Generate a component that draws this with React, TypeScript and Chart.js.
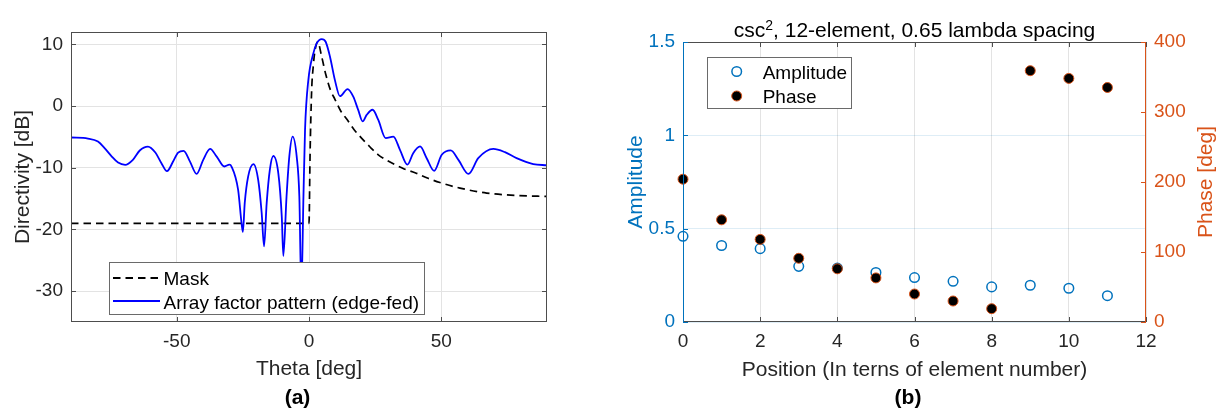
import React, { useEffect, useRef } from "react";
import { Chart, registerables } from "chart.js";

Chart.register(...registerables);

const FONT = "'Liberation Sans', Arial, Helvetica, sans-serif";
const TEXT = "#262626";
const BOX = "#4d4d4d";
const GRID = "#e3e3e3";
const MBLUE = "#0072BD";
const MORANGE = "#D95319";
const W = 1217;
const H = 412;

// ---------- Panel (a) data ----------
const patternTheta = [-90, -83.6, -79.8, -77.3, -74.8, -72.2, -69.5, -66.6, -64.0, -60.9, -58.1, -55.8, -53.7, -51.4, -49.5, -47.4, -45.0, -42.5, -40.0, -37.4, -34.9, -32.0, -30.1, -29.3, -26.8, -25.5, -25.0, -24.3, -23.0, -21.0, -19.2, -17.9, -17.0, -16.0, -14.8, -13.5, -11.6, -10.3, -9.7, -8.5, -7.45, -6.2, -4.65, -3.65, -2.9, -2.1, -1.5, -0.25, 1.64, 2.9, 4.8, 6.3, 7.94, 9.8, 11.7, 14.6, 16.75, 18.6, 20.3, 21.8, 24.05, 26.2, 29.0, 31.9, 34.4, 37.2, 39.4, 42.0, 44.5, 47.3, 50.2, 53.6, 56.5, 60.3, 64.0, 69.7, 74.1, 78.5, 84.8, 90];
const patternDb = [-5.1, -5.27, -5.76, -6.83, -8.07, -9.16, -9.53, -8.72, -7.2, -6.57, -7.54, -9.26, -10.55, -9.0, -7.54, -7.25, -9.0, -11.0, -8.72, -6.95, -8.2, -9.8, -9.5, -9.8, -13.6, -19.0, -20.4, -15.7, -11.4, -9.4, -12.0, -17.3, -22.75, -15.7, -10.3, -8.1, -10.9, -17.9, -24.3, -14.7, -8.2, -4.95, -8.2, -14.7, -30, -14.7, -3.87, 4.22, 8.54, 10.16, 10.86, 10.42, 8.0, 4.2, 1.6, 2.75, 1.52, -0.63, -2.5, -1.44, -0.6, -2.25, -5.2, -4.95, -7.1, -9.5, -7.64, -6.55, -8.45, -10.5, -7.9, -7.2, -8.72, -11.0, -8.45, -6.95, -7.48, -8.45, -9.4, -9.6];
const maskTheta = [-90, 0, 0.4, 1.0, 1.6, 2.2, 3.3, 4.8, 6.3, 8.1, 9.8, 12, 14.4, 17, 20.3, 23, 26.2, 29, 32.5, 36, 40.1, 45, 49.5, 57.1, 67.2, 78.5, 90];
const maskDb = [-19, -19, -8, 2.5, 6.4, 8.8, 10.4, 8.0, 5.2, 2.6, 1.1, -0.8, -2.2, -3.8, -5.4, -6.6, -7.9, -8.7, -9.5, -10.2, -10.8, -11.7, -12.4, -13.3, -14.1, -14.5, -14.65];
const thetaTicks = [-50, 0, 50];
const dbTicks = [-30, -20, -10, 0, 10];
const legendA = ["Mask", "Array factor pattern (edge-fed)"];

// ---------- Panel (b) data ----------
const positions = [0, 1, 2, 3, 4, 5, 6, 7, 8, 9, 10, 11];
const amplitude = [0.459, 0.41, 0.393, 0.298, 0.289, 0.265, 0.238, 0.218, 0.188, 0.197, 0.181, 0.141];
const phaseDeg = [204, 146, 118, 91, 76, 63, 40, 30, 19, 359, 348, 335];
const positionTicks = [0, 2, 4, 6, 8, 10, 12];
const amplitudeTicks = [0, 0.5, 1, 1.5];
const phaseTicks = [0, 100, 200, 300, 400];
const legendB = ["Amplitude", "Phase"];

function rotText(ctx: CanvasRenderingContext2D, text: string, x: number, y: number, font: string, color: string) {
  ctx.save();
  ctx.translate(x, y);
  ctx.rotate(-Math.PI / 2);
  ctx.font = font;
  ctx.fillStyle = color;
  ctx.textAlign = "center";
  ctx.textBaseline = "alphabetic";
  ctx.fillText(text, 0, 0);
  ctx.restore();
}

function text(ctx: CanvasRenderingContext2D, t: string, x: number, y: number, font: string, color: string, align: CanvasTextAlign = "center") {
  ctx.font = font;
  ctx.fillStyle = color;
  ctx.textAlign = align;
  ctx.textBaseline = "alphabetic";
  ctx.fillText(t, x, y);
}

const px = (v: number) => Math.round(v) + 0.5;

const panelAPlugin = {
  id: "panelA",
  afterDraw(chart: any) {
    const { ctx, chartArea: a } = chart;
    const xs = chart.scales.x;
    const ys = chart.scales.y;
    ctx.save();
    ctx.strokeStyle = BOX;
    ctx.lineWidth = 1;
    ctx.setLineDash([]);
    ctx.beginPath();
    for (const v of thetaTicks) {
      const p = px(xs.getPixelForValue(v));
      ctx.moveTo(p, a.bottom); ctx.lineTo(p, a.bottom - 5);
      ctx.moveTo(p, a.top); ctx.lineTo(p, a.top + 5);
    }
    for (const v of dbTicks) {
      const p = px(ys.getPixelForValue(v));
      ctx.moveTo(a.left, p); ctx.lineTo(a.left + 5, p);
      ctx.moveTo(a.right, p); ctx.lineTo(a.right - 5, p);
    }
    ctx.stroke();
    ctx.strokeRect(a.left + 0.5, a.top + 0.5, a.right - a.left - 1, a.bottom - a.top - 1);

    // legend
    ctx.fillStyle = "#fff";
    ctx.fillRect(109, 262, 316, 53);
    ctx.strokeStyle = "#6a6a6a";
    ctx.strokeRect(109.5, 262.5, 315, 52);
    ctx.lineWidth = 1.8;
    ctx.strokeStyle = "#000";
    ctx.setLineDash([7.5, 5]);
    ctx.beginPath(); ctx.moveTo(113, 278); ctx.lineTo(160, 278); ctx.stroke();
    ctx.setLineDash([]);
    ctx.strokeStyle = "#0000FF";
    ctx.beginPath(); ctx.moveTo(113, 301); ctx.lineTo(160, 301); ctx.stroke();
    text(ctx, legendA[0], 163.5, 285.3, `19px ${FONT}`, "#000", "left");
    text(ctx, legendA[1], 163.5, 308.7, `19px ${FONT}`, "#000", "left");

    // axis labels
    rotText(ctx, "Directivity [dB]", 28.5, 177, `21px ${FONT}`, TEXT);
    text(ctx, "Theta [deg]", 309, 375, `21px ${FONT}`, TEXT);
    text(ctx, "(a)", 297.5, 404, `bold 21px ${FONT}`, "#000");
    ctx.restore();
  },
};

const panelBPlugin = {
  id: "panelB",
  afterDraw(chart: any) {
    const { ctx, chartArea: a } = chart;
    const xs = chart.scales.x;
    const ys = chart.scales.y;
    const y2 = chart.scales.y2;
    ctx.save();
    ctx.lineWidth = 1;
    ctx.setLineDash([]);
    // x ticks & top/bottom borders
    ctx.strokeStyle = BOX;
    ctx.beginPath();
    for (const v of positionTicks) {
      const p = px(xs.getPixelForValue(v));
      ctx.moveTo(p, a.bottom); ctx.lineTo(p, a.bottom - 5);
      ctx.moveTo(p, a.top); ctx.lineTo(p, a.top + 5);
    }
    ctx.moveTo(a.left, a.top + 0.5); ctx.lineTo(a.right, a.top + 0.5);
    ctx.moveTo(a.left, a.bottom - 0.5); ctx.lineTo(a.right, a.bottom - 0.5);
    ctx.stroke();
    // left axis
    ctx.strokeStyle = MBLUE;
    ctx.beginPath();
    ctx.moveTo(a.left + 0.5, a.top); ctx.lineTo(a.left + 0.5, a.bottom);
    for (const v of amplitudeTicks) {
      const p = px(ys.getPixelForValue(v));
      ctx.moveTo(a.left, p); ctx.lineTo(a.left + 5, p);
    }
    ctx.stroke();
    // right axis
    ctx.strokeStyle = MORANGE;
    ctx.beginPath();
    ctx.moveTo(a.right - 0.5, a.top); ctx.lineTo(a.right - 0.5, a.bottom);
    for (const v of phaseTicks) {
      const p = px(y2.getPixelForValue(v));
      ctx.moveTo(a.right, p); ctx.lineTo(a.right - 5, p);
    }
    ctx.stroke();

    // title with superscript
    const big = `21px ${FONT}`;
    const small = `14px ${FONT}`;
    const rest = ", 12-element, 0.65 lambda spacing";
    ctx.font = big;
    const w1 = ctx.measureText("csc").width;
    const w3 = ctx.measureText(rest).width;
    ctx.font = small;
    const w2 = ctx.measureText("2").width;
    let tx = 914.5 - (w1 + w2 + w3) / 2;
    text(ctx, "csc", tx, 36.5, big, "#000", "left");
    tx += w1;
    text(ctx, "2", tx, 29.5, small, "#000", "left");
    tx += w2;
    text(ctx, rest, tx, 36.5, big, "#000", "left");

    // legend
    ctx.fillStyle = "#fff";
    ctx.fillRect(707, 57, 145, 51);
    ctx.strokeStyle = "#6a6a6a";
    ctx.strokeRect(707.5, 57.5, 144, 51);
    ctx.lineWidth = 1.5;
    ctx.strokeStyle = MBLUE;
    ctx.beginPath(); ctx.arc(736.7, 71.5, 4.8, 0, Math.PI * 2); ctx.stroke();
    ctx.fillStyle = "#000";
    ctx.strokeStyle = MORANGE;
    ctx.lineWidth = 1;
    ctx.beginPath(); ctx.arc(736.7, 96, 5, 0, Math.PI * 2); ctx.fill(); ctx.stroke();
    text(ctx, legendB[0], 762.7, 78.7, `19px ${FONT}`, "#000", "left");
    text(ctx, legendB[1], 762.7, 102.7, `19px ${FONT}`, "#000", "left");

    // axis labels
    rotText(ctx, "Amplitude", 641.5, 182, `21px ${FONT}`, MBLUE);
    rotText(ctx, "Phase [deg]", 1211.5, 182, `21px ${FONT}`, MORANGE);
    text(ctx, "Position (In terns of element number)", 914.5, 375.5, `21px ${FONT}`, TEXT);
    text(ctx, "(b)", 908, 404, `bold 21px ${FONT}`, "#000");
    ctx.restore();
  },
};

const tickFont = { family: FONT, size: 19 };

function configA(): any {
  return {
    type: "line",
    data: {
      datasets: [
        {
          label: legendA[1],
          data: patternTheta.map((t, i) => ({ x: t, y: patternDb[i] })),
          borderColor: "#0000FF",
          borderWidth: 1.8,
          pointRadius: 0,
          cubicInterpolationMode: "monotone",
          order: 0,
        },
        {
          label: legendA[0],
          data: maskTheta.map((t, i) => ({ x: t, y: maskDb[i] })),
          borderColor: "#000000",
          borderWidth: 1.7,
          borderDash: [7.5, 5],
          pointRadius: 0,
          cubicInterpolationMode: "monotone",
          order: 1,
        },
      ],
    },
    options: {
      responsive: false,
      animation: false,
      devicePixelRatio: 1,
      layout: { padding: { left: 0, top: 32, right: W - 547, bottom: 0 } },
      plugins: { legend: { display: false }, tooltip: { enabled: false }, title: { display: false } },
      scales: {
        x: {
          type: "linear",
          min: -90,
          max: 90,
          afterBuildTicks: (s: any) => { s.ticks = thetaTicks.map((v) => ({ value: v })); },
          afterFit: (s: any) => { s.height = H - 322; },
          grid: { color: GRID, drawTicks: false },
          border: { display: false },
          ticks: { font: tickFont, color: TEXT, padding: 8, maxRotation: 0, autoSkip: false },
        },
        y: {
          type: "linear",
          min: -35,
          max: 12,
          afterBuildTicks: (s: any) => { s.ticks = dbTicks.map((v) => ({ value: v })); },
          afterFit: (s: any) => { s.width = 71; },
          grid: { color: GRID, drawTicks: false },
          border: { display: false },
          ticks: { font: tickFont, color: TEXT, padding: 8 },
        },
      },
    },
    plugins: [panelAPlugin],
  };
}

function configB(): any {
  return {
    type: "scatter",
    data: {
      datasets: [
        {
          label: legendB[1],
          data: positions.map((p, i) => ({ x: p, y: phaseDeg[i] })),
          yAxisID: "y2",
          pointRadius: 5,
          pointBorderWidth: 1,
          backgroundColor: "#000000",
          borderColor: MORANGE,
          clip: false,
          order: 0,
        },
        {
          label: legendB[0],
          data: positions.map((p, i) => ({ x: p, y: amplitude[i] })),
          yAxisID: "y",
          pointRadius: 4.8,
          pointBorderWidth: 1.5,
          backgroundColor: "rgba(0,0,0,0)",
          borderColor: MBLUE,
          clip: false,
          order: 1,
        },
      ],
    },
    options: {
      responsive: false,
      animation: false,
      devicePixelRatio: 1,
      layout: { padding: { left: 610, top: 42, right: 0, bottom: 0 } },
      plugins: { legend: { display: false }, tooltip: { enabled: false }, title: { display: false } },
      scales: {
        x: {
          type: "linear",
          min: 0,
          max: 12,
          afterBuildTicks: (s: any) => { s.ticks = positionTicks.map((v) => ({ value: v })); },
          afterFit: (s: any) => { s.height = H - 322; },
          grid: { color: GRID, drawTicks: false },
          border: { display: false },
          ticks: { font: tickFont, color: TEXT, padding: 8, maxRotation: 0, autoSkip: false },
        },
        y: {
          type: "linear",
          position: "left",
          min: 0,
          max: 1.5,
          afterBuildTicks: (s: any) => { s.ticks = amplitudeTicks.map((v) => ({ value: v })); },
          afterFit: (s: any) => { s.width = 73; },
          grid: { color: "rgba(0,114,189,0.13)", drawTicks: false },
          border: { display: false },
          ticks: { font: tickFont, color: MBLUE, padding: 8, callback: (v: any) => String(v) },
        },
        y2: {
          type: "linear",
          position: "right",
          min: 0,
          max: 400,
          afterBuildTicks: (s: any) => { s.ticks = phaseTicks.map((v) => ({ value: v })); },
          afterFit: (s: any) => { s.width = 71; },
          grid: { display: false, drawTicks: false },
          border: { display: false },
          ticks: { font: tickFont, color: MORANGE, padding: 8, callback: (v: any) => String(v) },
        },
      },
    },
    plugins: [panelBPlugin],
  };
}

export default function App() {
  const aRef = useRef<HTMLCanvasElement>(null);
  const bRef = useRef<HTMLCanvasElement>(null);
  useEffect(() => {
    const ca = new Chart(aRef.current as HTMLCanvasElement, configA());
    const cb = new Chart(bRef.current as HTMLCanvasElement, configB());
    return () => {
      ca.destroy();
      cb.destroy();
    };
  }, []);
  const cs: React.CSSProperties = { position: "absolute", left: 0, top: 0, width: W, height: H };
  return (
    <div style={{ position: "absolute", left: 0, top: 0, width: W, height: H, background: "#fff" }}>
      <canvas ref={aRef} width={W} height={H} style={cs} />
      <canvas ref={bRef} width={W} height={H} style={cs} />
    </div>
  );
}
